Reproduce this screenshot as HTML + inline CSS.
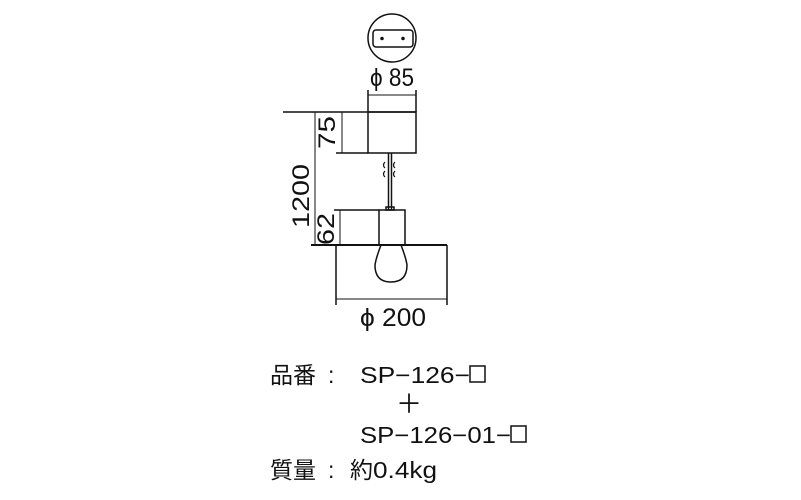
<!DOCTYPE html>
<html><head><meta charset="utf-8"><style>body{margin:0;background:#fff}svg{display:block}</style></head><body>
<svg width="801" height="500" viewBox="0 0 801 500" xmlns="http://www.w3.org/2000/svg">
<g fill="none" stroke="#111" stroke-width="1.5">
<circle cx="392" cy="38" r="24"/>
<rect x="373" y="30" width="40" height="17" rx="3"/>
<circle cx="382" cy="38.5" r="1" fill="#111"/><circle cx="403" cy="38.5" r="1" fill="#111"/>
<line x1="368" y1="90" x2="368" y2="112"/><line x1="416" y1="90" x2="416" y2="112"/>
<line x1="368" y1="95" x2="416" y2="95" stroke-width="1"/>
<line x1="283" y1="112" x2="416" y2="112"/>
<rect x="368" y="112" width="48" height="41"/>
<line x1="336" y1="153" x2="368" y2="153"/>
<line x1="342" y1="112" x2="342" y2="153" stroke-width="1"/>
<line x1="315" y1="112" x2="315" y2="245" stroke-width="1"/>
<line x1="388.5" y1="153" x2="388.5" y2="210"/><line x1="391.5" y1="153" x2="391.5" y2="210"/>
<path d="M385 162 q-3 3 0 6 M395 162 q-3 3 0 6 M385 171 q-3 3 0 6 M395 171 q-3 3 0 6" stroke-width="1.2"/>
<rect x="386" y="207" width="8" height="3"/>
<rect x="379" y="210" width="26" height="35"/>
<line x1="334" y1="210" x2="379" y2="210"/>
<line x1="340" y1="210" x2="340" y2="245" stroke-width="1"/>
<line x1="311" y1="245" x2="447" y2="245" stroke-width="2"/>
<path d="M381 245 Q376 258 375 265 Q375 282 391 282 Q407 282 407 265 Q406 258 401 245"/>
<line x1="336" y1="245" x2="336" y2="305"/><line x1="447" y1="245" x2="447" y2="305"/>
<line x1="336" y1="299" x2="447" y2="299" stroke-width="1"/>
<rect x="470" y="366" width="15" height="16"/>
<rect x="511" y="426" width="15" height="16"/>
</g>
<g font-family="Liberation Sans, sans-serif" fill="#111" font-size="25">
<text x="370" y="86" textLength="44" lengthAdjust="spacingAndGlyphs">ϕ 85</text>
<text x="360" y="326" textLength="66" lengthAdjust="spacingAndGlyphs">ϕ 200</text>
<text transform="translate(335,149) rotate(-90)" font-size="24" textLength="33" lengthAdjust="spacingAndGlyphs">75</text>
<text transform="translate(309,228) rotate(-90)" font-size="24" textLength="64" lengthAdjust="spacingAndGlyphs">1200</text>
<text transform="translate(334,245) rotate(-90)" font-size="24" textLength="32" lengthAdjust="spacingAndGlyphs">62</text>
</g>
<g font-family="Liberation Sans, Noto Sans CJK JP, sans-serif" fill="#111" font-size="23">
<text x="270" y="383">品番</text><text x="328" y="383">:</text>
<text x="360" y="383" textLength="110" lengthAdjust="spacingAndGlyphs">SP−126−</text>
<text x="396" y="413" font-size="26">＋</text>
<text x="360" y="443" textLength="151" lengthAdjust="spacingAndGlyphs">SP−126−01−</text>
<text x="270" y="478">質量</text><text x="328" y="478">:</text>
<text x="350" y="478">約</text>
<text x="373" y="478" textLength="64" lengthAdjust="spacingAndGlyphs">0.4kg</text>
</g>
</svg>
</body></html>
